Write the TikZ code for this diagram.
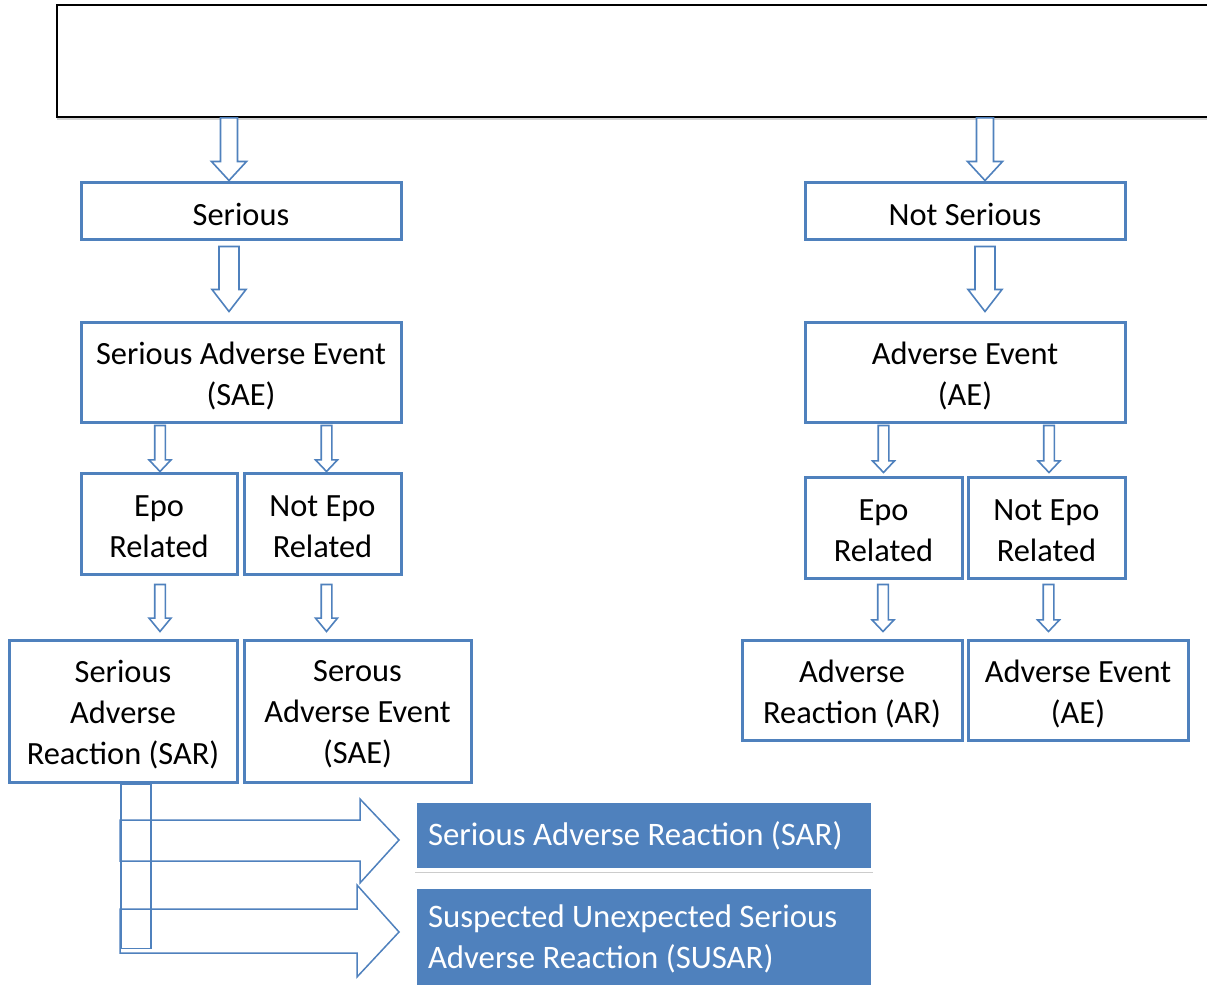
\documentclass[tikz,border=0pt]{standalone}
\usepackage{fontspec}
\setmainfont{Carlito}
\usetikzlibrary{calc,shadows}
\definecolor{boxblue}{RGB}{79,129,189}
\newcommand\lowtxt[1]{\raisebox{-1.75pt}[\height][\depth]{#1}}
\tikzset{
  txt/.style={font=\fontsize{16.2pt}{20.5pt}\selectfont},
  bluetxt/.style={font=\fontsize{16.4pt}{20.5pt}\selectfont},
  box/.style={txt, draw=boxblue, line width=1.5pt, fill=white, align=center, inner sep=0pt},
  hollow/.style={draw=boxblue, line width=0.8pt, fill=white, line join=miter},
  block/.style={draw=boxblue, line width=0.75pt, line join=miter},
  bluebox/.style={bluetxt, fill=boxblue, draw=white, line width=2pt, text=white, align=flush left,
    inner xsep=6.5pt, inner ysep=0pt, text width=216pt, minimum width=229pt,
    drop shadow={opacity=0.4, shadow xshift=0pt, shadow yshift=-1.5pt}},
}
% down arrow: #1 start, #2 tip, #3 shaft half, #4 head half, #5 head length
\newcommand\darr[5]{%
  \draw[hollow] let \p1=(#1), \p2=(#2) in
    (\x1-#3,\y1) -- (\x1-#3,\y2+#5) -- (\x1-#4,\y2+#5) -- (\x1,\y2)
    -- (\x1+#4,\y2+#5) -- (\x1+#3,\y2+#5) -- (\x1+#3,\y1) -- cycle;}
\begin{document}
\begin{tikzpicture}[x=0.5pt,y=-0.5pt]
\clip (0,0) rectangle (1207,985);
\fill[white] (0,0) rectangle (1207,985);

% top box
\node[draw=black, line width=0.8pt, fill=white, minimum width=579pt, minimum height=56pt,
  inner sep=0pt, drop shadow={opacity=0.35, shadow xshift=0pt, shadow yshift=-1.5pt}] (top) at (636,61) {};

% level 1
\node[box, minimum width=160pt, minimum height=28.5pt] (serious) at (241,210.5) {\lowtxt{Serious}};
\node[box, minimum width=160pt, minimum height=28.5pt] (notserious) at (965,210.5) {\lowtxt{Not Serious}};

% level 2
\node[box, minimum width=160pt, minimum height=50pt] (sae) at (241,372) {\lowtxt{Serious Adverse Event}\\\lowtxt{(SAE)}};
\node[box, minimum width=160pt, minimum height=50pt] (ae) at (965,372) {\lowtxt{Adverse Event}\\\lowtxt{(AE)}};

% level 3
\node[box, minimum width=78pt, minimum height=50.5pt] (epo) at (159,523.5) {\lowtxt{Epo}\\\lowtxt{Related}};
\node[box, minimum width=78.5pt, minimum height=50.5pt] (nepo) at (322.5,523.5) {\lowtxt{Not Epo}\\\lowtxt{Related}};
\node[box, minimum width=78.5pt, minimum height=50.5pt] (repo) at (883.5,527.5) {\lowtxt{Epo}\\\lowtxt{Related}};
\node[box, minimum width=78.5pt, minimum height=50.5pt] (rnepo) at (1046.5,527.5) {\lowtxt{Not Epo}\\\lowtxt{Related}};

% level 4
\node[box, minimum width=114pt, minimum height=71pt] (sar) at (123,711) {\lowtxt{Serious}\\\lowtxt{Adverse}\\\lowtxt{Reaction (SAR)}};
\node[box, minimum width=113.5pt, minimum height=71pt] (serous) at (357.5,711) {\lowtxt{Serous}\\\lowtxt{Adverse Event}\\\lowtxt{(SAE)}};
\node[box, minimum width=110pt, minimum height=50pt] (ar) at (852,690) {\lowtxt{Adverse}\\\lowtxt{Reaction (AR)}};
\node[box, minimum width=110pt, minimum height=50pt] (ae2) at (1078,690) {\lowtxt{Adverse Event}\\\lowtxt{(AE)}};

% blue result boxes
\node[bluebox, minimum height=34.5pt] (blue1) at (644,835.5) {Serious Adverse Reaction (SAR)};
\node[bluebox, minimum height=51.5pt] (blue2) at (644,938.5) {Suspected Unexpected Serious\\Adverse Reaction (SUSAR)};

% down arrows
\darr{$(top.south -| serious.north)+(-12,0)$}{$(serious.north)+(-12,0)$}{4.25pt}{8.75pt}{9.5pt}
\darr{$(top.south -| notserious.north)+(20,0)$}{$(notserious.north)+(20,0)$}{4.25pt}{8.75pt}{9.5pt}
\darr{$(serious.south)+(-12,6)$}{$(sae.north)+(-12,-9)$}{5pt}{8.5pt}{11pt}
\darr{$(notserious.south)+(20,6)$}{$(ae.north)+(20,-9)$}{5pt}{8.5pt}{11pt}

\darr{$(sae.south -| epo.north)+(1,2)$}{$(epo.north)+(1,0)$}{2.65pt}{5.5pt}{5.8pt}
\darr{$(sae.south -| nepo.north)+(4,2)$}{$(nepo.north)+(4,0)$}{2.65pt}{5.5pt}{5.8pt}
\darr{$(ae.south -| repo.north)+(0,2)$}{$(repo.north)+(0,-3)$}{2.65pt}{5.5pt}{5.8pt}
\darr{$(ae.south -| rnepo.north)+(2.5,2)$}{$(rnepo.north)+(2.5,-3)$}{2.65pt}{5.5pt}{5.8pt}

\darr{$(epo.south)+(1,9)$}{$(sar.north -| epo.south)+(1,-7)$}{2.65pt}{5.5pt}{6.7pt}
\darr{$(nepo.south)+(4,9)$}{$(serous.north -| nepo.south)+(4,-7)$}{2.65pt}{5.5pt}{6.7pt}
\darr{$(repo.south)+(-0.5,5)$}{$(ar.north -| repo.south)+(-0.5,-7)$}{2.65pt}{5.5pt}{5.8pt}
\darr{$(rnepo.south)+(2,5)$}{$(ae2.north -| rnepo.south)+(2,-7)$}{2.65pt}{5.5pt}{5.8pt}

% block arrows to result boxes
\begin{scope}[shift={($(blue1.west)+(-14,4.5)$)}]
  \draw[block] (-279,-20) -- (-39,-20) -- (-39,-41) -- (0,0) -- (-39,43) -- (-39,21) -- (-279,21) -- cycle;
\end{scope}
\begin{scope}[shift={($(blue2.west)+(-14,-6.5)$)}]
  \draw[block] (-279,-23) -- (-42,-23) -- (-42,-47) -- (0,0) -- (-42,45) -- (-42,21) -- (-279,21) -- cycle;
\end{scope}
\draw[block] ($(sar.south)+(-2,1)$) rectangle ($(sar.south)+(28,165)$);
\end{tikzpicture}
\end{document}
